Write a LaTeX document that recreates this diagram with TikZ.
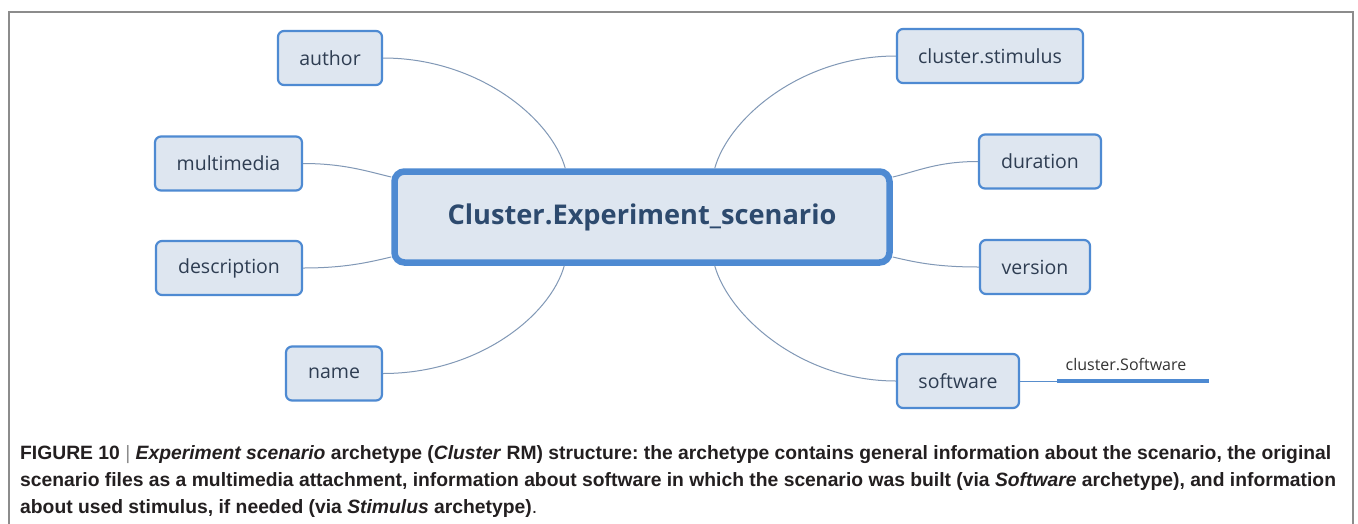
\documentclass[tikz,border=0pt]{standalone}
\usepackage{fontspec}
\usetikzlibrary{calc}
\frenchspacing
\newfontfamily\boxfont{Open Sans}
\newfontfamily\capfont{Liberation Sans}
\definecolor{boxfill}{HTML}{DEE6F0}
\definecolor{boxedge}{HTML}{4E8AD2}
\definecolor{boxtext}{HTML}{2E3D52}
\definecolor{maintext}{HTML}{2D4A6E}
\definecolor{linkcol}{HTML}{8198B6}
\definecolor{framecol}{HTML}{8C8C8C}
\definecolor{captext}{HTML}{231F20}
\tikzset{
  leaf/.style={draw=boxedge, line width=2.2pt, fill=boxfill, rounded corners=6pt,
    text=boxtext, font=\boxfont\fontsize{19.5}{22}\selectfont,
    inner sep=0pt, minimum height=54pt},
  hub/.style={draw=boxedge, line width=6.5pt, fill=boxfill, rounded corners=10pt,
    text=maintext, font=\boxfont\bfseries\fontsize{27.2}{30}\selectfont,
    inner sep=0pt, minimum width=495pt, minimum height=91pt},
  link/.style={draw=linkcol, line width=1pt},
  capline/.style={anchor=base west, inner sep=0pt, text=captext,
    font=\capfont\bfseries\fontsize{19.3}{27}\selectfont}
}
\begin{document}
\begin{tikzpicture}[x=1pt,y=-1pt]
\useasboundingbox (0,0) rectangle (1358,523);
\fill[white] (0,0) rectangle (1358,523);
% outer frame
\draw[framecol, line width=1.5pt] (9,540) -- (9,12) -- (1353,12) -- (1353,540);

% central concept
\node[hub] (hub) at (642,217) {Cluster.Experiment\_scenario};

% left branches
\node[leaf, minimum width=104pt] (author) at (330,58) {author};
\node[leaf, minimum width=147pt] (multimedia) at (228.5,163.5) {multimedia};
\node[leaf, minimum width=146pt] (description) at (229,268) {description};
\node[leaf, minimum width=96pt] (name) at (334,373.5) {name};

% right branches
\node[leaf, minimum width=186pt] (stimulus) at (990,56) {cluster.stimulus};
\node[leaf, minimum width=122pt] (duration) at (1040,161.5) {duration};
\node[leaf, minimum width=110pt] (version) at (1035,267) {version};
\node[leaf, minimum width=122pt] (software) at (958,381) {software};

% attachment points on the central box
\coordinate (hubTL) at ($(hub.north west)!0.347!(hub.north east)$);
\coordinate (hubTR) at ($(hub.north west)!0.645!(hub.north east)$);
\coordinate (hubBL) at ($(hub.south west)!0.345!(hub.south east)$);
\coordinate (hubBR) at ($(hub.south west)!0.645!(hub.south east)$);
\coordinate (hubWL) at ($(hub.north west)!0.09!(hub.south west)$);
\coordinate (hubWR) at ($(hub.north west)!0.91!(hub.south west)$);
\coordinate (hubEL) at ($(hub.north east)!0.09!(hub.south east)$);
\coordinate (hubER) at ($(hub.north east)!0.91!(hub.south east)$);

% connectors
\draw[link] (author.east) .. controls +(95,0) and +(-14,-50) .. (hubTL);
\draw[link] (multimedia.east) .. controls +(40,0) and +(-25,-6) .. (hubWL);
\draw[link] (description.east) .. controls +(40,0) and +(-25,6) .. (hubWR);
\draw[link] (name.east) .. controls +(95,0) and +(-14,50) .. (hubBL);
\draw[link] (stimulus.west) .. controls +(-95,0) and +(14,-50) .. (hubTR);
\draw[link] (duration.west) .. controls +(-40,0) and +(25,-6) .. (hubEL);
\draw[link] (version.west) .. controls +(-40,0) and +(25,6) .. (hubER);
\draw[link] (software.west) .. controls +(-95,0) and +(14,50) .. (hubBR);

% reference to the software archetype
\coordinate (swA) at (1057,381);
\coordinate (swB) at (1209,381);
\draw[link, draw=boxedge!80!linkcol] (software.east) -- (swA);
\draw[draw=boxedge, line width=3.5pt] (swA) -- (swB);
\node[anchor=base, inner sep=0pt, text=black!80, font=\boxfont\fontsize{16}{18}\selectfont]
  (swlabel) at (1126,370) {cluster.Software};

% caption
\node[capline] (cap1) at (20,459) {FIGURE 10 {\mdseries\color{black!45}|} \textit{Experiment scenario} archetype (\textit{Cluster} RM) structure: the archetype contains general information about the scenario, the original};
\node[capline] (cap2) at (20,486) {scenario files as a multimedia attachment, information about software in which the scenario was built (via \textit{Software} archetype), and information};
\node[capline] (cap3) at (20,513) {about used stimulus, if needed (via \textit{Stimulus} archetype){\mdseries .}};
\end{tikzpicture}
\end{document}
